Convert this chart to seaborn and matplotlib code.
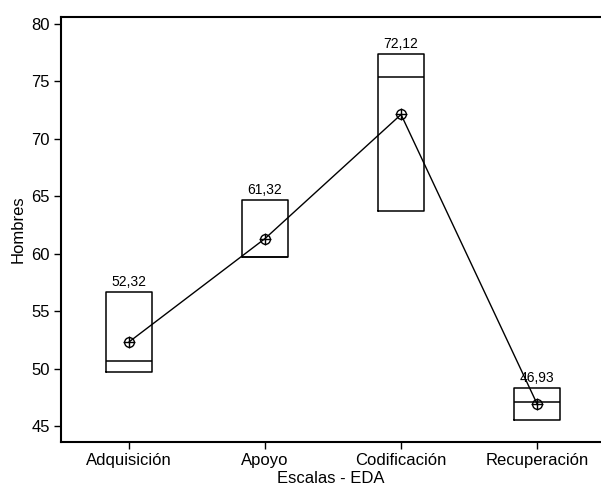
import matplotlib
matplotlib.use("Agg")
import matplotlib.pyplot as plt
import seaborn as sns
import pandas as pd

categories = ["Adquisición", "Apoyo", "Codificación", "Recuperación"]
means = [52.32, 61.32, 72.12, 46.93]
q1 = [49.69, 59.69, 63.73, 45.50]
medians = [50.65, 59.69, 75.39, 47.09]
q3 = [56.67, 64.69, 77.37, 48.34]
mean_labels = ["52,32", "61,32", "72,12", "46,93"]

sns.set_theme(style="white")
plt.rcParams["font.family"] = ["Liberation Sans Narrow", "Liberation Sans", "DejaVu Sans"]
plt.rcParams["text.color"] = "black"
plt.rcParams["axes.labelcolor"] = "black"
plt.rcParams["xtick.color"] = "black"
plt.rcParams["ytick.color"] = "black"

fig = plt.figure(figsize=(6.01, 4.93), dpi=100)
ax = fig.add_axes([61 / 601, 1 - 442 / 493, 1 - 61 / 601, (442 - 17.3) / 493])

stats = []
for c, a, m, b, mu in zip(categories, q1, medians, q3, means):
    stats.append(dict(label=c, q1=a, med=m, q3=b, whislo=a, whishi=b, mean=mu, fliers=[]))

ax.bxp(stats, positions=range(len(categories)), widths=0.34, showfliers=False,
       showcaps=False, patch_artist=False,
       boxprops=dict(color="black", linewidth=1.1),
       medianprops=dict(color="black", linewidth=1.1),
       whiskerprops=dict(color="black", linewidth=1.0))

df = pd.DataFrame({"Escala": categories, "Media": means})
sns.pointplot(data=df, x="Escala", y="Media", order=categories, color="black",
              markers="o", linestyles="-", ax=ax, errorbar=None,
              markersize=7, markerfacecolor="none", markeredgewidth=1.0, linewidth=1.0)
ax.plot(range(len(categories)), means, linestyle="none", marker="+", color="black",
        markersize=9, markeredgewidth=1.0)

for i, (b, lab) in enumerate(zip(q3, mean_labels)):
    ax.annotate(lab, (i, b), xytext=(0, 2), textcoords="offset points",
                ha="center", va="bottom", fontsize=10, color="black")

ax.set_xlim(-0.5, 3.47)
ax.set_ylim(43.61, 80.58)
ax.set_yticks([45, 50, 55, 60, 65, 70, 75, 80])
ax.set_xticks(range(len(categories)))
ax.set_xticklabels(categories)
ax.set_xlabel("Escalas - EDA", fontsize=12, labelpad=2, color="black")
ax.set_ylabel("Hombres", fontsize=12, labelpad=4, color="black")
ax.tick_params(axis="both", labelsize=12, length=5, width=1, color="black",
               labelcolor="black", left=True, bottom=True, direction="out", pad=3)
for s in ["left", "bottom", "top"]:
    ax.spines[s].set_visible(True)
    ax.spines[s].set_color("black")
    ax.spines[s].set_linewidth(1.5)
ax.spines["right"].set_visible(False)
ax.grid(False)

fig.savefig("out.png", dpi=100)
